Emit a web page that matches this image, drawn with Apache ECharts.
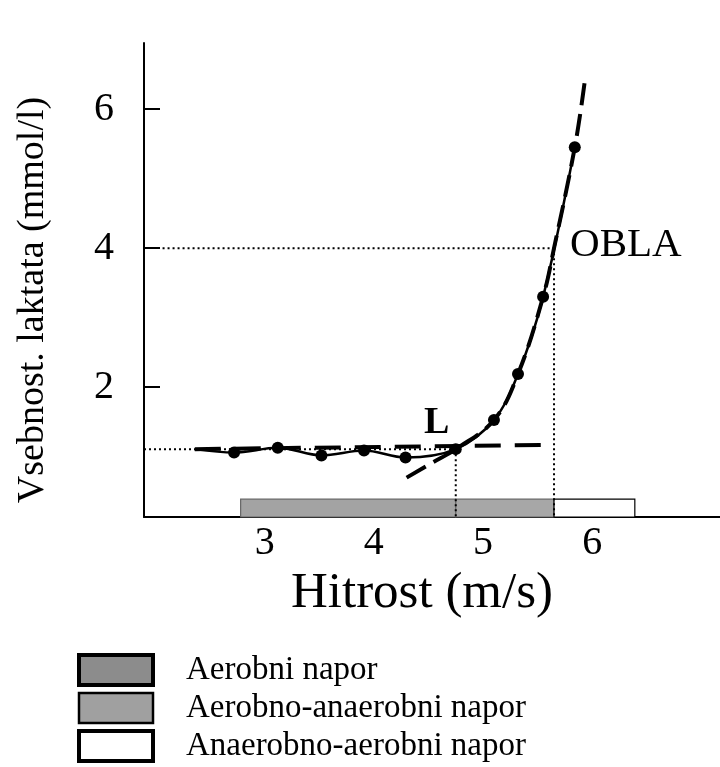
<!DOCTYPE html>
<html><head><meta charset="utf-8">
<script src="https://cdn.jsdelivr.net/npm/echarts@6/dist/echarts.min.js"></script>
<style>html,body{margin:0;padding:0;background:#fff}#c{width:720px;height:767px}</style>
</head><body><div id="c"></div>
<script>
// measured lactate points
const speed   = [2.72, 3.12, 3.52, 3.91, 4.29, 4.75, 5.10, 5.32, 5.55, 5.84];
const lactate = [1.06, 1.13, 1.02, 1.09, 0.99, 1.11, 1.53, 2.19, 3.30, 5.45];
// solid fitted line start
const fitStart = [2.36, 1.11];
// dashed rising curve
const riseX = [4.30, 4.53, 4.75, 5.10, 5.32, 5.55, 5.65, 5.84, 5.93];
const riseY = [0.70, 0.91, 1.11, 1.53, 2.19, 3.30, 4.00, 5.45, 6.38];
// dashed baseline
const baseX = [2.36, 5.57];
const baseY = [1.11, 1.17];
// thresholds
const pointL = [4.75, 1.11];
const pointOBLA = [5.65, 4.0];
// intensity zones
const zoneNames = ['Aerobni napor', 'Aerobno-anaerobni napor', 'Anaerobno-aerobni napor'];
const zoneStart = [2.78, 4.75, 5.65];
const zoneEnd   = [4.75, 5.65, 6.39];
const zoneTop = 0.39;
// ticks
const yTicks = [2, 4, 6];
const xTicks = [3, 4, 5, 6];

const X_MIN = 1.895, X_MAX = 7.17, Y_MIN = 0.134, Y_MAX = 6.95;
const SERIF = '"Liberation Serif", "DejaVu Serif", serif';

const chart = echarts.init(document.getElementById('c'), null, {renderer: 'canvas'});

const zoneFill = ['#a3a3a3', '#a7a7a7', '#ffffff'];
const zoneStroke = ['#666', '#666', '#000'];
const legendStyle = [
  {color: '#8c8c8c', borderColor: '#000', borderWidth: 4},
  {color: '#a0a0a0', borderColor: '#000', borderWidth: 2.5},
  {color: '#ffffff', borderColor: '#000', borderWidth: 4}
];

const zoneSeries = zoneNames.map((n, i) => ({
  type: 'custom', name: n, z: 1,
  data: [[zoneStart[i], zoneEnd[i], Y_MIN, zoneTop]],
  encode: {x: [0, 1], y: [2, 3]},
  itemStyle: {color: zoneFill[i], borderColor: zoneStroke[i], borderWidth: 1.2},
  silent: true,
  renderItem: (params, api) => {
    const p0 = api.coord([api.value(0), api.value(3)]);
    const p1 = api.coord([api.value(1), api.value(2)]);
    return {type: 'rect',
      shape: {x: p0[0], y: p0[1], width: p1[0] - p0[0], height: p1[1] - p0[1]},
      style: {fill: zoneFill[i], stroke: zoneStroke[i], lineWidth: 1.2}};
  }
}));

const dotted = {color: '#000', width: 2, type: [2, 3]};
function refLine(data) {
  return {type: 'line', data: data, symbol: 'none', lineStyle: dotted, z: 2, silent: true};
}

const option = {
  animation: false,
  backgroundColor: '#fff',
  grid: {left: 144, right: 0, top: 43, bottom: 250, containLabel: false},
  xAxis: {
    type: 'value', min: X_MIN, max: X_MAX,
    axisLine: {lineStyle: {color: '#000', width: 2}},
    axisTick: {show: false},
    splitLine: {show: false},
    axisLabel: {customValues: xTicks, color: '#000', fontSize: 40, fontFamily: SERIF, margin: 6},
    name: 'Hitrost (m/s)', nameLocation: 'middle', nameGap: 48,
    nameTextStyle: {color: '#000', fontSize: 51, fontFamily: SERIF, padding: [0, 20, 0, 0]}
  },
  yAxis: {
    type: 'value', min: Y_MIN, max: Y_MAX,
    axisLine: {lineStyle: {color: '#000', width: 2}},
    axisTick: {inside: true, length: 16, customValues: yTicks, lineStyle: {color: '#000', width: 2}},
    splitLine: {show: false},
    axisLabel: {customValues: yTicks, color: '#000', fontSize: 40, fontFamily: SERIF, margin: 30},
    name: 'Vsebnost. laktata (mmol/l)', nameLocation: 'middle', nameRotate: 90, nameGap: 92,
    nameTextStyle: {color: '#000', fontSize: 38, fontFamily: SERIF, padding: [0, 40, 0, 0]}
  },
  legend: {
    orient: 'vertical', left: 77, top: 650, height: 117, itemWidth: 74, itemHeight: 30, itemGap: -2,
    selectedMode: false, icon: 'rect', padding: 0,
    textStyle: {color: '#000', fontSize: 33, lineHeight: 24, fontFamily: SERIF, padding: [16, 0, 0, 28]},
    data: zoneNames.map((n, i) => ({name: n, icon: 'rect', itemStyle: legendStyle[i]}))
  },
  series: [
    ...zoneSeries,
    refLine([[X_MIN, pointL[1]], pointL]),
    refLine([pointL, [pointL[0], Y_MIN]]),
    refLine([[X_MIN + 0.17, pointOBLA[1]], pointOBLA]),
    refLine([pointOBLA, [pointOBLA[0], Y_MIN]]),
    {type: 'line', data: baseX.map((x, i) => [x, baseY[i]]), symbol: 'none', z: 3,
     lineStyle: {color: '#000', width: 4, type: [26, 14]}},
    {type: 'line', data: riseX.map((x, i) => [x, riseY[i]]), symbol: 'none', smooth: 0.4, z: 3,
     lineStyle: {color: '#000', width: 4, type: [22, 9]}},
    {type: 'line', data: [fitStart].concat(speed.map((x, i) => [x, lactate[i]])), symbol: 'none',
     smooth: 0.35, z: 4, lineStyle: {color: '#000', width: 2.5}},
    {type: 'scatter', data: speed.map((x, i) => [x, lactate[i]]), symbolSize: 12, z: 5,
     itemStyle: {color: '#000', opacity: 1}},
    {type: 'scatter', symbolSize: 0, z: 6, silent: true,
     itemStyle: {opacity: 1},
     label: {show: true, color: '#000', fontFamily: SERIF, formatter: p => p.value[2]},
     data: [
       {value: [pointL[0], pointL[1], 'L'], label: {position: 'top', offset: [-19, -2], fontSize: 38, fontWeight: 'bold', color: '#000'}},
       {value: [pointOBLA[0], pointOBLA[1], 'OBLA'], label: {position: 'right', distance: 16, offset: [0, -3], fontSize: 41, color: '#000'}}
     ]
    }
  ]
};
chart.setOption(option);
</script>
</body></html>
